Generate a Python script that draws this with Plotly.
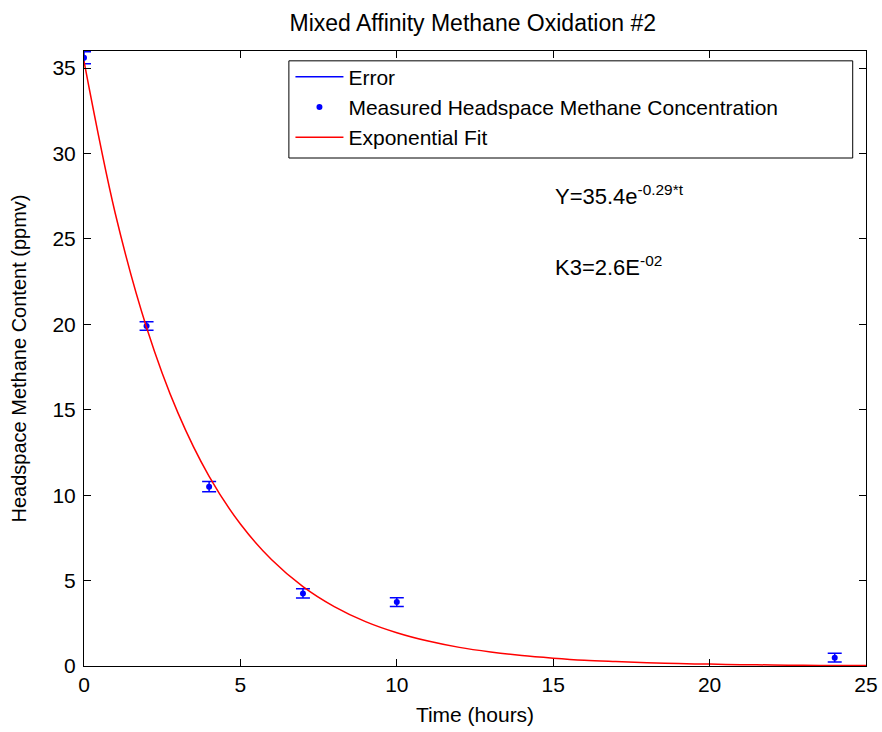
import plotly.graph_objects as go

# Measured data
time_h = [0, 2, 4, 7, 10, 24]
methane = [35.6, 19.9, 10.5, 4.25, 3.74, 0.49]
error = [0.35, 0.25, 0.3, 0.27, 0.25, 0.25]

# Exponential fit curve (Y = 35.4 e^(-0.29 t))
fit_t = list(range(0, 26))
fit_y = [35.4, 26.49, 19.82, 14.83, 11.10, 8.31, 6.22, 4.65, 3.48, 2.60, 1.95,
         1.46, 1.09, 0.82, 0.61, 0.46, 0.34, 0.26, 0.19, 0.14, 0.11, 0.08,
         0.06, 0.04, 0.03, 0.025]

x_ticks = [0, 5, 10, 15, 20, 25]
y_ticks = [0, 5, 10, 15, 20, 25, 30, 35]

FONT = "Liberation Sans, Arial, sans-serif"

fig = go.Figure()

# legend-only entry for the error bars
fig.add_trace(go.Scatter(x=[None], y=[None], mode="lines", name="Error",
                         line=dict(color="#0000ff", width=1.5)))

fig.add_trace(go.Scatter(
    x=time_h, y=methane, mode="markers",
    name="Measured Headspace Methane Concentration",
    marker=dict(color="#0000ff", size=6),
    error_y=dict(type="data", array=error, visible=True, color="#0000ff",
                 thickness=1.5, width=7),
))

fig.add_trace(go.Scatter(
    x=fit_t, y=fit_y, mode="lines", name="Exponential Fit",
    line=dict(color="#ff0000", width=1.5, shape="spline"),
))

fig.add_annotation(x=15, y=27.6, xref="x", yref="y", xanchor="left",
                   yanchor="middle", showarrow=False,
                   text="Y=35.4e<sup>-0.29*t</sup>",
                   font=dict(family=FONT, size=22, color="black"))
fig.add_annotation(x=15, y=23.4, xref="x", yref="y", xanchor="left",
                   yanchor="middle", showarrow=False,
                   text="K3=2.6E<sup>-02</sup>",
                   font=dict(family=FONT, size=22, color="black"))

# legend frame (MATLAB-style box)
fig.add_shape(type="rect", xref="paper", yref="paper",
              x0=0.262, x1=0.983, y0=0.826, y1=0.984,
              line=dict(color="black", width=1), fillcolor="rgba(0,0,0,0)",
              layer="above")

axis_common = dict(
    showline=True, linecolor="black", linewidth=1, mirror="ticks",
    ticks="inside", ticklen=7, tickwidth=1, tickcolor="black",
    showgrid=False, zeroline=False, automargin=False,
    tickfont=dict(family=FONT, size=21, color="black"),
)

fig.update_layout(
    width=882, height=732,
    margin=dict(l=84, r=16, t=51, b=66),
    paper_bgcolor="white", plot_bgcolor="white",
    title=dict(text="Mixed Affinity Methane Oxidation #2",
               x=0.536, xanchor="center", y=0.969, yanchor="middle",
               font=dict(family=FONT, size=23, color="black")),
    xaxis=dict(range=[0, 25], tickvals=x_ticks,
               title=dict(text="Time (hours)", standoff=12,
                          font=dict(family=FONT, size=21, color="black")),
               **axis_common),
    yaxis=dict(range=[0, 36], tickvals=y_ticks, ticklabelstandoff=3,
               title=dict(text="Headspace Methane Content (ppmv)", standoff=20,
                          font=dict(family=FONT, size=20, color="black")),
               **axis_common),
    legend=dict(x=0.264, y=0.991, xanchor="left", yanchor="top",
                bgcolor="rgba(0,0,0,0)", borderwidth=0,
                itemwidth=48,
                font=dict(family=FONT, size=21, color="black"),
                tracegroupgap=0),
    showlegend=True,
)

fig.write_html("out.html")
